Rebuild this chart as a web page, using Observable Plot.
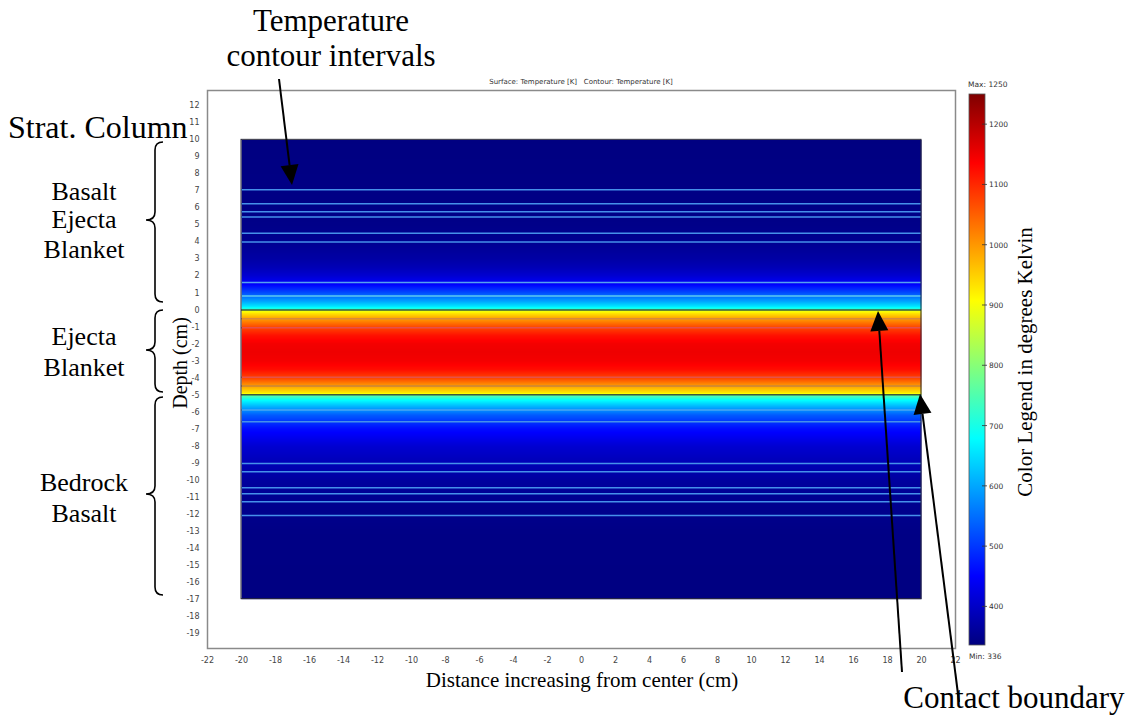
<!DOCTYPE html>
<html>
<head>
<meta charset="utf-8">
<script src="https://cdn.jsdelivr.net/npm/d3@7"></script>
<script src="https://cdn.jsdelivr.net/npm/@observablehq/plot@0.6"></script>
<style>
  html, body { margin: 0; padding: 0; background: #fff; }
  #chart svg { display: block; }
</style>
</head>
<body>
<div id="chart"></div>
<script>
// ---- data ----
// temperature profile along depth (cm) -> temperature (K), uniform along x
const profileDepth = [10, 8, 6, 5, 4, 3, 2.5, 2, 1.5, 1, 0.5, 0.2, 0.02, -0.02, -0.2, -0.5, -1, -1.5, -2, -2.5, -3, -3.5, -4, -4.5, -4.85, -4.98, -5.02, -5.3, -5.8, -6.2, -7, -8, -9, -10, -11, -13, -17];
const profileTemp  = [338, 340, 342, 345, 352, 370, 385, 410, 450, 520, 600, 660, 720, 880, 930, 990, 1070, 1120, 1145, 1150, 1145, 1125, 1075, 990, 930, 880, 760, 680, 590, 530, 460, 410, 385, 365, 352, 342, 338];

// contour line depths (cm) and their drawn colours
const contourDepth = [7.06, 6.24, 5.78, 5.47, 4.51, 4.0, 1.61, 0.82, 0.0, -0.51, -1.04, -3.96, -4.47, -4.98, -5.88, -6.57, -9.02, -9.51, -10.45, -10.8, -11.27, -12.08];
const contourColor = ["#4590ea", "#4590ea", "#4590ea", "#4590ea", "#4590ea", "#4590ea", "#55a2f0", "#5ccaf0", "#3d5a3d", "#d88a3a", "#e5504a", "#e5504a", "#c8863a", "#3d5a3d", "#4aa6f0", "#4590ea", "#4590ea", "#4590ea", "#4590ea", "#4590ea", "#4590ea", "#4590ea"];

// geometry of the modelled block
const blockX = [-20, 20];
const blockY = [-17, 10];

// axis ticks
const xTicks = d3.range(-22, 23, 2);
const yTicks = d3.range(-19, 13, 1);
const colorTicks = [400, 500, 600, 700, 800, 900, 1000, 1100, 1200];
const tempMin = 336, tempMax = 1250;

// jet-like colour map
const jetColors = ["#00007f", "#0000ff", "#007fff", "#00ffff", "#7fff7f", "#ffff00", "#ff7f00", "#ff0000", "#7f0000"];
const jet = d3.piecewise(d3.interpolateRgb, jetColors);

// ---- build table for raster ----
const surface = [];
profileDepth.forEach((d, i) => {
  for (const x of blockX) surface.push({x, y: d, t: profileTemp[i]});
});
const contours = contourDepth.map((d, i) => ({y: d, c: contourColor[i]}));
const block = [{x1: blockX[0], x2: blockX[1], y1: blockY[0], y2: blockY[1]}];

const W = 1135, H = 715;
const plot = Plot.plot({
  width: W,
  height: H,
  marginLeft: 207,
  marginRight: 180,
  marginTop: 90,
  marginBottom: 67,
  style: {fontFamily: "DejaVu Sans, Verdana, sans-serif", fontSize: "8px", color: "#333", background: "#fff"},
  x: {domain: [-22, 22], label: null},
  y: {domain: [-19.9, 12.9], label: null},
  color: {type: "linear", domain: [tempMin, tempMax], interpolate: jet},
  marks: [
    Plot.raster(surface, {
      x: "x", y: "y", fill: "t",
      x1: blockX[0], x2: blockX[1], y1: blockY[0], y2: blockY[1],
      interpolate: "barycentric"
    }),
    Plot.ruleY(contours, {y: "y", x1: blockX[0], x2: blockX[1], stroke: "c", strokeWidth: 1.5}),
    Plot.rect(block, {x1: "x1", x2: "x2", y1: "y1", y2: "y2", fill: "none", stroke: "#2a2a3a", strokeWidth: 1}),
    Plot.frame({stroke: "#8a8a8a", strokeWidth: 1.5}),
    Plot.axisX({ticks: xTicks, tickSize: 0, tickPadding: 9, tickFormat: d => d, fill: "#444"}),
    Plot.axisY({ticks: yTicks, tickSize: 0, tickPadding: 8, tickFormat: d => d, fill: "#444"})
  ]
});
document.getElementById("chart").appendChild(plot);

// ---- annotations & colour bar ----
const svg = d3.select(plot);
const serif = "Liberation Serif, Times New Roman, serif";
const sans = "DejaVu Sans, Verdana, sans-serif";

// plot title
svg.append("text").attr("x", 581).attr("y", 84).attr("text-anchor", "middle")
  .attr("font-family", sans).attr("font-size", 7).attr("fill", "#333")
  .text("Surface: Temperature [K]   Contour: Temperature [K]");

// axis labels
svg.append("text").attr("x", 582).attr("y", 687).attr("text-anchor", "middle")
  .attr("font-family", serif).attr("font-size", 21).attr("fill", "#000")
  .text("Distance increasing from center (cm)");
svg.append("text").attr("transform", "translate(187,363) rotate(-90)").attr("text-anchor", "middle")
  .attr("font-family", serif).attr("font-size", 20).attr("fill", "#000")
  .text("Depth (cm)");

// colour bar
const cbX = 969, cbW = 16, cbTop = 94, cbBot = 645;
const cbScale = d3.scaleLinear().domain([tempMin, tempMax]).range([cbBot, cbTop]);
const defs = svg.append("defs");
const grad = defs.append("linearGradient").attr("id", "cbgrad")
  .attr("x1", 0).attr("y1", 1).attr("x2", 0).attr("y2", 0);
d3.range(0, 1.0001, 0.025).forEach(t => {
  grad.append("stop").attr("offset", t).attr("stop-color", jet(t));
});
svg.append("rect").attr("x", cbX).attr("y", cbTop).attr("width", cbW).attr("height", cbBot - cbTop)
  .attr("fill", "url(#cbgrad)").attr("stroke", "#555").attr("stroke-width", 0.8);
colorTicks.forEach(v => {
  const y = cbScale(v);
  svg.append("line").attr("x1", cbX + cbW - 3).attr("x2", cbX + cbW + 2).attr("y1", y).attr("y2", y)
    .attr("stroke", "#333").attr("stroke-width", 0.8);
  svg.append("text").attr("x", cbX + cbW + 4).attr("y", y + 3).attr("text-anchor", "start")
    .attr("font-family", sans).attr("font-size", 7.5).attr("fill", "#333").text(v);
});
svg.append("text").attr("x", cbX - 1).attr("y", 87).attr("text-anchor", "start")
  .attr("font-family", sans).attr("font-size", 7.5).attr("fill", "#333").text("Max: " + tempMax);
svg.append("text").attr("x", cbX).attr("y", 659).attr("text-anchor", "start")
  .attr("font-family", sans).attr("font-size", 7.5).attr("fill", "#333").text("Min: " + tempMin);
svg.append("text").attr("transform", "translate(1032,362) rotate(-90)").attr("text-anchor", "middle")
  .attr("font-family", serif).attr("font-size", 21).attr("fill", "#000")
  .text("Color Legend in degrees Kelvin");

// big annotations
function bigText(x, y, s, anchor, size) {
  svg.append("text").attr("x", x).attr("y", y).attr("text-anchor", anchor || "start")
    .attr("font-family", serif).attr("font-size", size).attr("fill", "#000").text(s);
}
bigText(331, 31, "Temperature", "middle", 31);
bigText(331, 66, "contour intervals", "middle", 31);
bigText(8, 138, "Strat. Column", "start", 32);
bigText(1014, 708, "Contact boundary", "middle", 31);
bigText(84, 200, "Basalt", "middle", 26);
bigText(84, 228, "Ejecta", "middle", 26);
bigText(84, 258, "Blanket", "middle", 26);
bigText(84, 345, "Ejecta", "middle", 26);
bigText(84, 376, "Blanket", "middle", 26);
bigText(84, 491, "Bedrock", "middle", 26);
bigText(84, 522, "Basalt", "middle", 26);

// braces
function brace(top, bot, mid) {
  const xr = 163, xm = 155, xl = 146, r = 8;
  const p = `M${xr},${top} Q${xm},${top} ${xm},${top + r} L${xm},${mid - r} Q${xm},${mid} ${xl},${mid}` +
            ` Q${xm},${mid} ${xm},${mid + r} L${xm},${bot - r} Q${xm},${bot} ${xr},${bot}`;
  svg.append("path").attr("d", p).attr("fill", "none").attr("stroke", "#000").attr("stroke-width", 1.6);
}
brace(142, 302, 220);
brace(310, 392, 350);
brace(397, 595, 494);

// arrows
function arrow(x0, y0, x1, y1) {
  const ang = Math.atan2(y1 - y0, x1 - x0);
  const L = 20, w = 9;
  const bx = x1 - L * Math.cos(ang), by = y1 - L * Math.sin(ang);
  const px = -Math.sin(ang) * w, py = Math.cos(ang) * w;
  svg.append("line").attr("x1", x0).attr("y1", y0).attr("x2", bx).attr("y2", by)
    .attr("stroke", "#000").attr("stroke-width", 2);
  svg.append("path").attr("d", `M${x1},${y1} L${bx + px},${by + py} L${bx - px},${by - py} Z`).attr("fill", "#000");
}
arrow(279, 79, 292, 185);
arrow(902, 672, 878, 311);
arrow(959, 702, 920, 394);
</script>
</body>
</html>
